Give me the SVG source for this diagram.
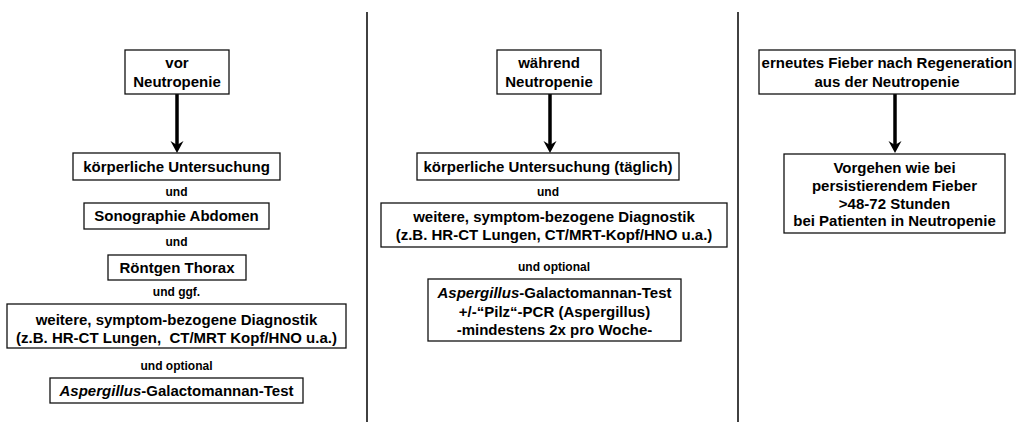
<svg xmlns="http://www.w3.org/2000/svg" width="1019" height="428" viewBox="0 0 1019 428">
<style>
  .box { fill: #fff; stroke: #111; stroke-width: 1.3; }
  .t { font-family: "Liberation Sans", Arial, Helvetica, sans-serif; font-weight: bold; font-size: 15px; fill: #000; text-anchor: middle; white-space: pre; }
  .s { font-family: "Liberation Sans", Arial, Helvetica, sans-serif; font-weight: bold; font-size: 12px; fill: #000; text-anchor: middle; }
  .div { stroke: #111; stroke-width: 1.6; }
  .arr { stroke: #000; stroke-width: 3.5; fill: none; }
  .i { font-style: italic; }
</style>
<defs>
  <path id="head" d="M0 0 L-6.5 -12 L0 -8 L6.5 -12 Z" fill="#000"/>
</defs>
<rect width="1019" height="428" fill="#fff"/>

<g id="dividers">
  <line class="div" x1="367" y1="12" x2="367" y2="422"/>
  <line class="div" x1="738" y1="12" x2="738" y2="422"/>
</g>

<g id="connectors">
  <line class="arr" x1="177" y1="94" x2="177" y2="145"/>
  <use href="#head" x="177" y="153"/>
  <line class="arr" x1="550" y1="94" x2="550" y2="145"/>
  <use href="#head" x="550" y="153"/>
  <line class="arr" x1="895" y1="94" x2="895" y2="145"/>
  <use href="#head" x="895" y="153"/>
</g>

<g id="col1-vor">
  <rect class="box" x="125" y="50" width="104" height="44"/>
  <text class="t" x="177" y="68">vor</text>
  <text class="t" x="177" y="87">Neutropenie</text>
</g>
<g id="col1-koerper">
  <rect class="box" x="73" y="153" width="207" height="27"/>
  <text class="t" x="176.5" y="172">körperliche Untersuchung</text>
</g>
<g id="col1-und1"><text class="s" x="176.5" y="196">und</text></g>
<g id="col1-sono">
  <rect class="box" x="84" y="203" width="185" height="26"/>
  <text class="t" x="176.5" y="221">Sonographie Abdomen</text>
</g>
<g id="col1-und2"><text class="s" x="176.5" y="246">und</text></g>
<g id="col1-roentgen">
  <rect class="box" x="108" y="255" width="138" height="25"/>
  <text class="t" x="177" y="273">Röntgen Thorax</text>
</g>
<g id="col1-undggf"><text class="s" x="176.5" y="296">und ggf.</text></g>
<g id="col1-weitere">
  <rect class="box" x="7" y="304" width="339" height="44"/>
  <text class="t" x="176.5" y="325">weitere, symptom-bezogene Diagnostik</text>
  <text class="t" x="176.5" y="343">(z.B. HR-CT Lungen,  CT/MRT Kopf/HNO u.a.)</text>
</g>
<g id="col1-undopt"><text class="s" x="176.5" y="370">und optional</text></g>
<g id="col1-asp">
  <rect class="box" x="50" y="378" width="253" height="25"/>
  <text class="t" x="176.5" y="396"><tspan class="i">Aspergillus</tspan>-Galactomannan-Test</text>
</g>

<g id="col2-waehrend">
  <rect class="box" x="497" y="50" width="104" height="44"/>
  <text class="t" x="549" y="68">während</text>
  <text class="t" x="549" y="87">Neutropenie</text>
</g>
<g id="col2-koerper">
  <rect class="box" x="417" y="153" width="262" height="27"/>
  <text class="t" x="548" y="172">körperliche Untersuchung (täglich)</text>
</g>
<g id="col2-und"><text class="s" x="548" y="196">und</text></g>
<g id="col2-weitere">
  <rect class="box" x="381" y="203" width="346" height="44"/>
  <text class="t" x="554" y="222">weitere, symptom-bezogene Diagnostik</text>
  <text class="t" x="554" y="240">(z.B. HR-CT Lungen, CT/MRT-Kopf/HNO u.a.)</text>
</g>
<g id="col2-undopt"><text class="s" x="554" y="271">und optional</text></g>
<g id="col2-asp">
  <rect class="box" x="428" y="279" width="253" height="62"/>
  <text class="t" x="554.5" y="298"><tspan class="i">Aspergillus</tspan>-Galactomannan-Test</text>
  <text class="t" x="554.5" y="316.5">+/-“Pilz“-PCR (Aspergillus)</text>
  <text class="t" x="554.5" y="335">-mindestens 2x pro Woche-</text>
</g>

<g id="col3-fieber">
  <rect class="box" x="759" y="50" width="256" height="44"/>
  <text class="t" x="887" y="68">erneutes Fieber nach Regeneration</text>
  <text class="t" x="887" y="87">aus der Neutropenie</text>
</g>
<g id="col3-vorgehen">
  <rect class="box" x="784" y="154" width="221" height="79"/>
  <text class="t" x="894.5" y="173">Vorgehen wie bei</text>
  <text class="t" x="894.5" y="191">persistierendem Fieber</text>
  <text class="t" x="894.5" y="208.5">&gt;48-72 Stunden</text>
  <text class="t" x="894.5" y="226">bei Patienten in Neutropenie</text>
</g>
</svg>
